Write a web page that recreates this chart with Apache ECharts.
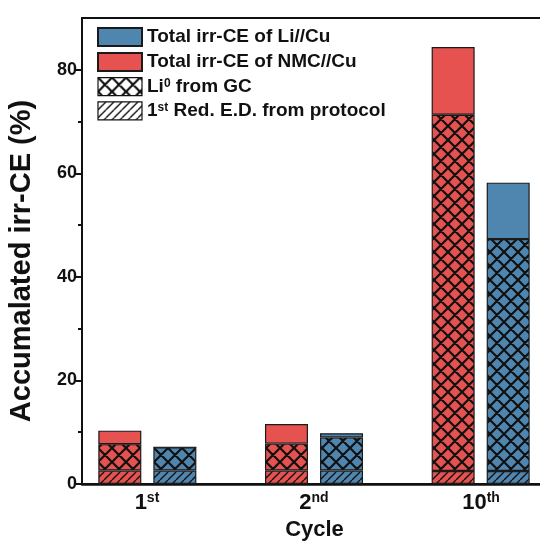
<!DOCTYPE html>
<html><head><meta charset="utf-8">
<script src="https://cdn.jsdelivr.net/npm/echarts@6/dist/echarts.min.js"></script>
<style>html,body{margin:0;padding:0;background:#fff}#c{width:540px;height:543px}</style>
</head><body><div id="c"></div>
<script>
// ---- data ----
const categories = ['1st', '2nd', '10th'];
const nmcTotal = [10.3, 11.6, 84.4];   // Total irr-CE of NMC//Cu
const nmcLi0   = [7.7, 7.8, 71.3];     // Li0 from GC (NMC//Cu)
const nmcRedED = [2.6, 2.6, 2.5];      // 1st Red. E.D. from protocol (NMC//Cu)
const liTotal  = [7.1, 9.8, 58.2];     // Total irr-CE of Li//Cu
const liLi0    = [7.1, 9.0, 47.3];     // Li0 from GC (Li//Cu)
const liRedED  = [2.6, 2.6, 2.5];      // 1st Red. E.D. from protocol (Li//Cu)
const yTicks = [0, 20, 40, 60, 80];
const yMinorTicks = [10, 30, 50, 70];
const legendNames = ['Total irr-CE of Li//Cu', 'Total irr-CE of NMC//Cu', 'Li0 from GC', '1st Red. E.D. from protocol'];

const RED = '#E5524F', BLUE = '#4F86B0', EDGE = '#1a1a1a';
const FONT = "'Liberation Sans', Arial, sans-serif";

function makePattern(bg, type) {
  const s = type === 'cross' ? 14 : 8;
  const c = document.createElement('canvas');
  c.width = s; c.height = s;
  const g = c.getContext('2d');
  g.fillStyle = bg; g.fillRect(0, 0, s, s);
  g.strokeStyle = '#111';
  g.lineWidth = type === 'cross' ? 2.2 : 1.4;
  g.beginPath();
  for (const d of [-s, 0, s]) {
    g.moveTo(d, s); g.lineTo(d + s, 0);
    if (type === 'cross') { g.moveTo(d, 0); g.lineTo(d + s, s); }
  }
  g.stroke();
  return { image: c, repeat: 'repeat' };
}

const diff = (a, b) => a.map((v, i) => +(v - b[i]).toFixed(2));

function seg(name, stack, data, color) {
  return {
    name, type: 'bar', stack, data, barWidth: 43, barGap: '28%',
    xAxisIndex: 1, yAxisIndex: 2,
    itemStyle: { color, borderColor: EDGE, borderWidth: 1.2 },
    emphasis: { disabled: true }, animation: false
  };
}

const series = [
  seg(legendNames[3], 'nmc', nmcRedED, makePattern(RED, 'hatch')),
  seg(legendNames[2], 'nmc', diff(nmcLi0, nmcRedED), makePattern(RED, 'cross')),
  seg(legendNames[1], 'nmc', diff(nmcTotal, nmcLi0), RED),
  seg(legendNames[3], 'li', liRedED, makePattern(BLUE, 'hatch')),
  seg(legendNames[2], 'li', diff(liLi0, liRedED), makePattern(BLUE, 'cross')),
  seg(legendNames[0], 'li', diff(liTotal, liLi0), BLUE)
];

function splitOrd(s) { const m = s.match(/^(\d+)(\D+)$/); return [m[1], m[2]]; }
function legendFmt(n) {
  if (n === legendNames[2]) return '{t|Li}{s|0}{t| from GC}';
  if (n === legendNames[3]) return '{t|1}{s|st}{t| Red. E.D. from protocol}';
  return '{t|' + n + '}';
}

const chart = echarts.init(document.getElementById('c'), null, { renderer: 'canvas' });
chart.setOption({
  animation: false,
  backgroundColor: '#fff',
  grid: [
    { left: 82, top: 18, width: 465, height: 466, show: true, borderColor: '#111', borderWidth: 2, outerBoundsMode: 'none', containLabel: false },
    { left: 64, top: 18, width: 500, height: 466, show: false, outerBoundsMode: 'none', containLabel: false }
  ],
  legend: {
    orient: 'vertical', left: 97, top: 27, padding: 0, itemWidth: 44, itemHeight: 18, itemGap: 5,
    icon: 'rect', selectedMode: false,
    data: [
      { name: legendNames[0] },
      { name: legendNames[1] },
      { name: legendNames[2], itemStyle: { color: makePattern('#fff', 'cross'), borderColor: '#111', borderWidth: 1.2 } },
      { name: legendNames[3], itemStyle: { color: makePattern('#fff', 'hatch'), borderColor: '#111', borderWidth: 1.2 } }
    ],
    formatter: legendFmt,
    textStyle: {
      rich: {
        t: { fontSize: 19, fontWeight: 'bold', fontFamily: FONT, color: '#111', lineHeight: 18 },
        s: { fontSize: 12, fontWeight: 'bold', fontFamily: FONT, color: '#111', verticalAlign: 'top', lineHeight: 18 }
      }
    }
  },
  xAxis: [{
    type: 'value', min: 0.611, max: 3.395, gridIndex: 0,
    name: 'Cycle', nameLocation: 'middle', nameGap: 35,
    nameTextStyle: { fontSize: 22, fontWeight: 'bold', fontFamily: FONT, color: '#111' },
    axisLine: { show: true, onZero: false, lineStyle: { color: '#111', width: 2.5 } },
    axisTick: { show: false },
    splitLine: { show: false },
    axisLabel: {
      customValues: [1, 2, 3], margin: 7,
      formatter: v => { const p = splitOrd(categories[Math.round(v) - 1]); return '{m|' + p[0] + '}{s|' + p[1] + '}'; },
      rich: {
        m: { fontSize: 22, fontWeight: 'bold', fontFamily: FONT, color: '#111', lineHeight: 24 },
        s: { fontSize: 14, fontWeight: 'bold', fontFamily: FONT, color: '#111', verticalAlign: 'top', lineHeight: 24 }
      }
    }
  }, {
    type: 'category', gridIndex: 1, data: categories, show: false
  }],
  yAxis: [{
    type: 'value', min: 0, max: 90, position: 'left', gridIndex: 0,
    name: 'Accumalated irr-CE (%)', nameLocation: 'middle', nameGap: 46,
    nameTextStyle: { fontSize: 29, fontWeight: 'bold', fontFamily: FONT, color: '#111', padding: [0, 20, 0, 0] },
    axisLine: { show: true, onZero: false, lineStyle: { color: '#111', width: 2 } },
    axisTick: { show: true, customValues: yTicks, length: 7, lineStyle: { color: '#111', width: 2 } },
    axisLabel: { customValues: yTicks, fontSize: 18, fontWeight: 'bold', fontFamily: FONT, color: '#111', margin: 5 },
    splitLine: { show: false }
  }, {
    type: 'value', min: 0, max: 90, position: 'left', gridIndex: 0,
    axisLine: { show: false },
    axisTick: { show: true, customValues: yMinorTicks, length: 4, lineStyle: { color: '#111', width: 2 } },
    axisLabel: { show: false },
    splitLine: { show: false }
  }, {
    type: 'value', min: 0, max: 90, gridIndex: 1, show: false
  }],
  series
});
</script></body></html>
